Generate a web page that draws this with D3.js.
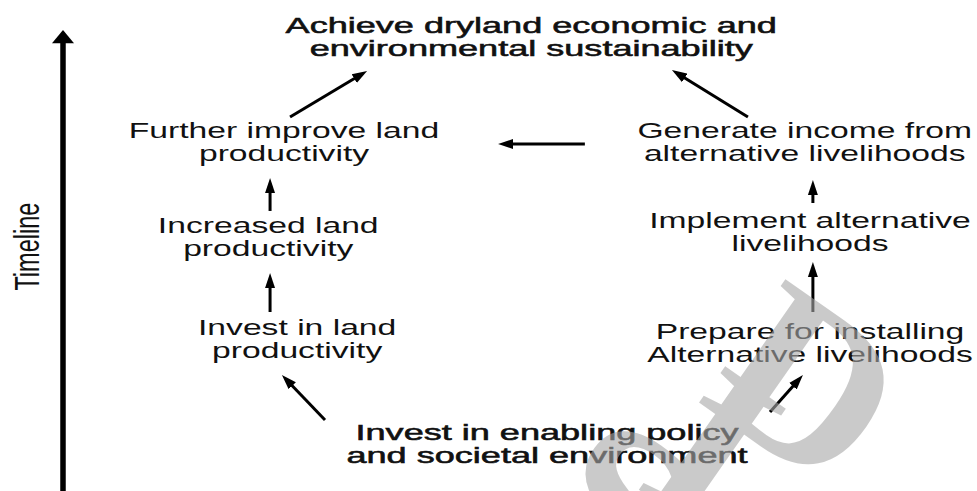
<!DOCTYPE html>
<html>
<head>
<meta charset="utf-8">
<script src="https://cdn.jsdelivr.net/npm/d3@7"></script>
<style>
  html, body { margin: 0; padding: 0; background: #fff; }
  svg { display: block; }
</style>
</head>
<body>
<div id="chart"></div>
<script>
// --- diagram content ---
var axisLabel = "Timeline";

var nodeIds = ["policy", "investLand", "increased", "further", "prepare", "implement", "generate", "goal"];
var nodeLines = [
  ["Invest in enabling policy", "and societal environment"],
  ["Invest in land", "productivity"],
  ["Increased land", "productivity"],
  ["Further improve land", "productivity"],
  ["Prepare for installing", "Alternative livelihoods"],
  ["Implement alternative", "livelihoods"],
  ["Generate income from", "alternative livelihoods"],
  ["Achieve dryland economic and", "environmental sustainability"]
];
var nodeStage = [0, 1, 2, 3, 1, 2, 3, 4];
var emphasised = ["policy", "goal"];

var links = [
  ["policy", "investLand"],
  ["policy", "prepare"],
  ["investLand", "increased"],
  ["increased", "further"],
  ["prepare", "implement"],
  ["implement", "generate"],
  ["generate", "further"],
  ["further", "goal"],
  ["generate", "goal"]
];

var watermark = ["S", "I", "D"];

// --- layout, in diagram units (column across, stage up) ---
var nodeCol = [1, 0.05, -0.06, 0, 2, 2, 1.98, 0.94];
var nodeRow = [0, 1.03, 2.03, 2.97, 0.99, 2.08, 2.97, 4];
var linkEnds = [
  [[0.156, 0.197], [-0.008, 0.639]],
  [[1.848, 0.275], [1.973, 0.639]],
  [[-0.053, 1.258], [-0.053, 1.641]],
  [[-0.053, 2.251], [-0.053, 2.575]],
  [[2.011, 1.258], [2.011, 1.749]],
  [[2.011, 2.329], [2.011, 2.555]],
  [[1.144, 2.909], [0.814, 2.909]],
  [[0.023, 3.174], [0.316, 3.627]],
  [[1.764, 3.174], [1.475, 3.636]]
];
var markAt = [[1.27, -0.62], [1.64, -0.05], [2.0, 0.57]];

var width = 977, height = 491;
var stretch = 1.53;       // the figure is drawn wide
var lineGap = 23;

var x = d3.scaleLinear().domain([0, 2]).range([284, 810]);
var y = d3.scaleLinear().domain([0, 4]).range([440, 33]);

var svg = d3.select("#chart").append("svg")
    .attr("width", width)
    .attr("height", height)
    .style("font-family", "'Liberation Sans', Arial, sans-serif");

var defs = svg.append("defs");
defs.append("marker")
    .attr("id", "head")
    .attr("markerUnits", "userSpaceOnUse")
    .attr("viewBox", "0 -6 15 12")
    .attr("markerWidth", 15)
    .attr("markerHeight", 12)
    .attr("refX", 7)
    .attr("refY", 0)
    .attr("orient", "auto")
  .append("path")
    .attr("d", "M0,-5L15,0L0,5Z")
    .attr("fill", "#000");

// timeline arrow
var axisX = 63;
svg.append("line")
    .attr("x1", axisX).attr("x2", axisX)
    .attr("y1", y(-0.6)).attr("y2", y(3.93))
    .attr("stroke", "#000")
    .attr("stroke-width", 5.5);
svg.append("path")
    .attr("d", d3.line()([[axisX, y(4.03)], [axisX + 11, y(3.9)], [axisX - 11, y(3.9)]]) + "Z")
    .attr("fill", "#000");

svg.append("text")
    .attr("transform", "translate(" + [39, y(1.9)] + ") scale(" + stretch + ",1) rotate(-90)")
    .attr("text-anchor", "middle")
    .style("font-size", "23.5px")
    .attr("fill", "#111")
    .text(axisLabel);

// arrows between steps
var gap = 8;
svg.append("g").selectAll("line")
    .data(linkEnds)
  .enter().append("line")
    .each(function(d) {
      var x1 = x(d[0][0]), y1 = y(d[0][1]), x2 = x(d[1][0]), y2 = y(d[1][1]);
      var len = Math.sqrt((x2 - x1) * (x2 - x1) + (y2 - y1) * (y2 - y1));
      d3.select(this)
        .attr("x1", x1).attr("y1", y1)
        .attr("x2", x2 - (x2 - x1) / len * gap)
        .attr("y2", y2 - (y2 - y1) / len * gap);
    })
    .attr("stroke", "#000")
    .attr("stroke-width", 3)
    .attr("marker-end", "url(#head)");

// step labels
var nodes = nodeIds.map(function(id, i) {
  return {id: id, lines: nodeLines[i], stage: nodeStage[i], col: nodeCol[i], row: nodeRow[i],
          strong: emphasised.indexOf(id) >= 0};
});

var label = svg.append("g").selectAll("text")
    .data(nodes)
  .enter().append("text")
    .attr("transform", function(d) {
      return "translate(" + [x(d.col), y(d.row)] + ") scale(" + (d.strong ? 1.64 : stretch) + ",1)";
    })
    .attr("text-anchor", "middle")
    .attr("fill", "#111")
    .attr("stroke", function(d) { return d.strong ? "#111" : "none"; })
    .attr("stroke-width", 0.55)
    .style("font-size", "22px");

label.selectAll("tspan")
    .data(function(d) { return d.lines; })
  .enter().append("tspan")
    .attr("x", 0)
    .attr("y", function(d, i) { return i * lineGap; })
    .text(function(d) { return d; });

// watermark over the lower right
var mark = svg.append("g")
    .attr("fill", "#a8a8a8")
    .attr("opacity", 0.6)
    .style("font-family", "'Liberation Serif', 'Times New Roman', serif")
    .style("font-weight", "bold")
    .style("font-size", "230px");
mark.selectAll("text")
    .data(watermark)
  .enter().append("text")
    .attr("transform", function(d, i) {
      return "translate(" + [x(markAt[i][0]), y(markAt[i][1])] + ") rotate(35)";
    })
    .attr("text-anchor", "middle")
    .attr("dy", "0.35em")
    .text(function(d) { return d; });
</script>
</body>
</html>
